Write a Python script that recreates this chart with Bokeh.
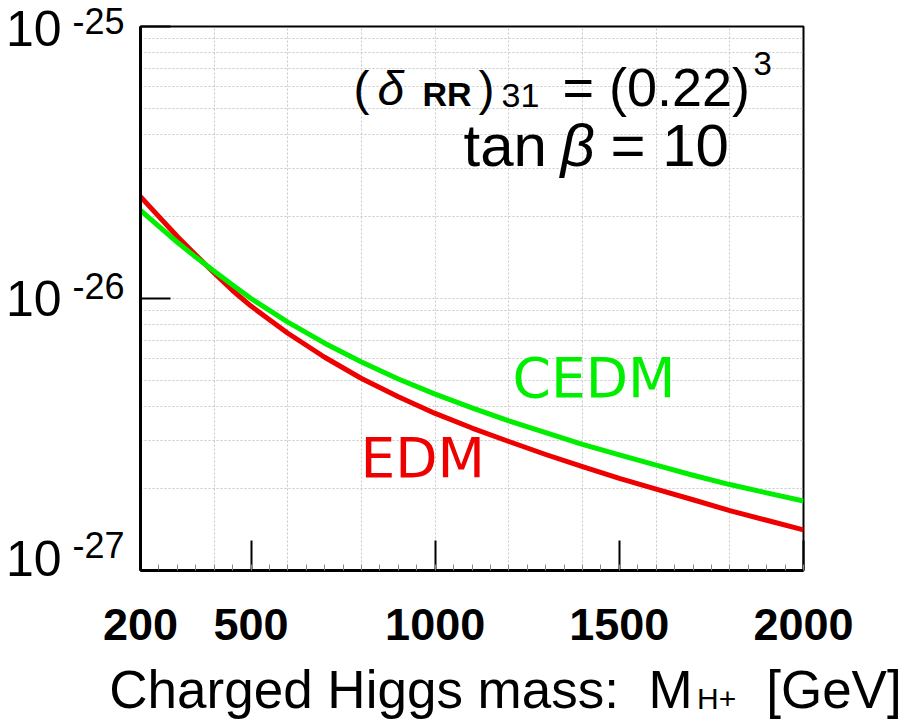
from bokeh.plotting import figure
from bokeh.models import FixedTicker, Label, LinearAxis, LogAxis, CustomJSTickFormatter
from bokeh.embed import file_html
from bokeh.resources import INLINE

# ---- data ----
mass = [200, 250, 300, 350, 400, 450, 500, 600, 700, 800, 900, 1000,
        1100, 1200, 1300, 1400, 1500, 1600, 1700, 1800, 1900, 2000]
edm = [2.37e-26, 2.00e-26, 1.69e-26, 1.445e-26, 1.24e-26, 1.07e-26, 9.38e-27,
       7.45e-27, 6.08e-27, 5.08e-27, 4.35e-27, 3.78e-27, 3.34e-27, 2.98e-27,
       2.67e-27, 2.41e-27, 2.18e-27, 1.99e-27, 1.82e-27, 1.66e-27, 1.53e-27,
       1.41e-27]
cedm = [2.11e-26, 1.84e-26, 1.61e-26, 1.42e-26, 1.26e-26, 1.12e-26, 1.00e-26,
        8.19e-27, 6.85e-27, 5.84e-27, 5.06e-27, 4.45e-27, 3.96e-27, 3.55e-27,
        3.21e-27, 2.91e-27, 2.66e-27, 2.44e-27, 2.24e-27, 2.07e-27, 1.93e-27,
        1.80e-27]

x_ticks = [200, 500, 1000, 1500, 2000]
x_minor = list(range(200, 2001, 50))
x_grid = [400, 600, 800, 1000, 1200, 1400, 1600, 1800]
y_ticks = [1e-27, 1e-26, 1e-25]
y_grid = [m * 1e-27 for m in range(2, 10)] + [1e-26] + [m * 1e-26 for m in range(2, 10)]
y_base = ["10", "10", "10"]
y_expo = ["-27", "-26", "-25"]

title_main = "Charged Higgs mass:\u00a0\u00a0M\u00a0\u00a0\u00a0\u00a0\u00a0[GeV]"
title_sub = "H+"
title_main_at = 1191   # x position (GeV) where the title text is centred
title_sub_at = 1764

RED = "#ee0000"
GREEN = "#00ee00"
FONT = "Liberation Sans"
NB = "\u00a0"

p = figure(width=906, height=722, x_range=(200, 2000), y_range=(1e-27, 1e-25),
           y_axis_type="log", output_backend="svg", toolbar_location=None,
           min_border_left=140, min_border_right=103, min_border_top=26,
           min_border_bottom=152)
p.outline_line_color = "black"
p.outline_line_width = 2
p.background_fill_color = "white"
p.border_fill_color = "white"

# x axis
xa = p.xaxis[0]
xa.ticker = FixedTicker(ticks=x_ticks, minor_ticks=x_minor)
xa.major_tick_in = 30
xa.major_tick_out = 0
xa.minor_tick_in = 6
xa.minor_tick_out = 0
xa.major_tick_line_width = 2
xa.minor_tick_line_color = "#888888"
xa.axis_line_width = 3
xa.major_label_text_font = FONT
xa.major_label_text_font_style = "bold"
xa.major_label_text_font_size = "45px"
xa.major_label_text_color = "black"
xa.major_label_standoff = 38

# x-axis title drawn as two extra label rows (main text + subscript)
ax_t = LinearAxis(ticker=FixedTicker(ticks=[title_main_at], minor_ticks=[]),
                  major_label_overrides={title_main_at: title_main})
ax_s = LinearAxis(ticker=FixedTicker(ticks=[title_sub_at], minor_ticks=[]),
                  major_label_overrides={title_sub_at: title_sub})
for ax, size, standoff in ((ax_t, "53px", 17), (ax_s, "30px", -40)):
    ax.axis_line_color = None
    ax.major_tick_line_color = None
    ax.minor_tick_line_color = None
    ax.major_tick_in = 0
    ax.major_tick_out = 0
    ax.minor_tick_in = 0
    ax.minor_tick_out = 0
    ax.major_label_text_font = FONT
    ax.major_label_text_font_size = size
    ax.major_label_text_color = "black"
    ax.major_label_standoff = standoff
    p.add_layout(ax, "below")

# y axis: exponents next to the frame, the "10" bases further left
expo_lines_after = [2, 1, 1]      # blank lines below each exponent (raises it)
base_lines_after = [1, 0, 0]      # blank lines below each base
expo_text = [e + ("\n" + NB) * n for e, n in zip(y_expo, expo_lines_after)]
base_text = [b + ("\n" + NB) * n for b, n in zip(y_base, base_lines_after)]

ya = p.yaxis[0]
ya.ticker = FixedTicker(ticks=y_ticks, minor_ticks=[])
ya.formatter = CustomJSTickFormatter(args=dict(labels=expo_text), code="return labels[index]")
ya.major_tick_in = 30
ya.major_tick_out = 0
ya.major_tick_line_width = 2
ya.minor_tick_in = 0
ya.minor_tick_out = 0
ya.axis_line_width = 3
ya.major_label_text_font = FONT
ya.major_label_text_font_size = "36px"
ya.major_label_text_line_height = 0.6
ya.major_label_text_color = "black"
ya.major_label_standoff = 16

ay10 = LogAxis(ticker=FixedTicker(ticks=y_ticks, minor_ticks=[]),
               formatter=CustomJSTickFormatter(args=dict(labels=base_text),
                                               code="return labels[index]"))
ay10.axis_line_color = None
ay10.major_tick_line_color = None
ay10.minor_tick_line_color = None
ay10.major_tick_in = 0
ay10.major_tick_out = 0
ay10.minor_tick_in = 0
ay10.minor_tick_out = 0
ay10.major_label_text_font = FONT
ay10.major_label_text_font_size = "50px"
ay10.major_label_text_line_height = 0.4
ay10.major_label_text_color = "black"
ay10.major_label_standoff = 8
p.add_layout(ay10, "left")

# grids
p.xgrid.ticker = FixedTicker(ticks=x_grid)
p.ygrid.ticker = FixedTicker(ticks=y_grid)
for g in (p.xgrid, p.ygrid):
    g.grid_line_color = "#c8c8c8"
    g.grid_line_dash = "2 2"
    g.grid_line_width = 1

# curves
p.line(mass, edm, line_color=RED, line_width=5, line_join="round")
p.line(mass, cedm, line_color=GREEN, line_width=5, line_join="round")


def lab(x, base, text, size, style="normal", color="black", font=FONT):
    # x: px from frame left; base: baseline height (px) above frame bottom
    p.add_layout(Label(x=x, y=base + round(0.41 * size), x_units="screen", y_units="screen",
                       text=text, text_align="left", text_baseline="alphabetic",
                       text_font=font, text_font_size=f"{size}px",
                       text_font_style=style, text_color=color))


# annotation (delta_RR)_31 = (0.22)^3
lab(213, 462, "(", 48)
lab(237, 462, "δ", 48, style="italic")
lab(282, 463, "RR", 34, style="bold")
lab(338, 462, ")", 48)
lab(361, 461, "31", 34)
lab(422, 462, "= (0.22)", 54)
lab(613, 493, "3", 33)

# tan beta = 10
lab(323, 400, "tan", 60)
lab(420, 400, "β", 60, style="italic")
lab(470, 400, "= 10", 60)

# curve labels
lab(372, 170, "CEDM", 55, color=GREEN, font="DejaVu Sans")
lab(220, 90, "EDM", 55, color=RED, font="DejaVu Sans")

open("out.html", "w").write(file_html(p, INLINE))
